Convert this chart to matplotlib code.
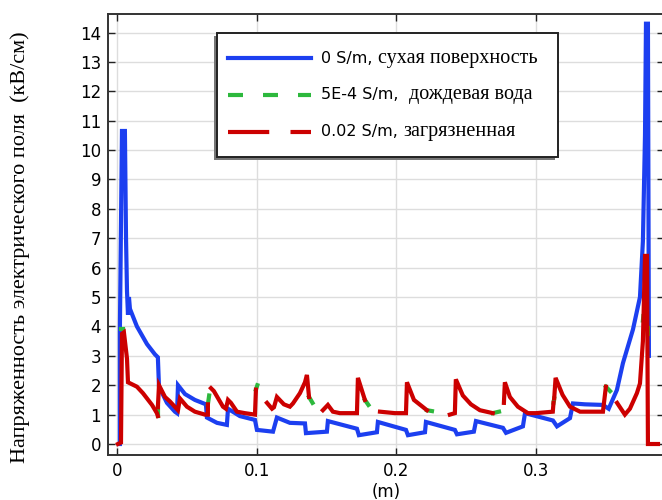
import numpy as np
import matplotlib
matplotlib.use("Agg")
import matplotlib.pyplot as plt
from matplotlib.lines import Line2D
from matplotlib.patches import Rectangle
from matplotlib.transforms import IdentityTransform
from matplotlib.offsetbox import (AnchoredOffsetbox, VPacker, HPacker,
                                  TextArea, DrawingArea)

plt.rcParams['font.family'] = ['DejaVu Sans']

# 0 S/m, dry surface
blue_x = [0.0021, 0.0021, 0.0036, 0.0057, 0.0065, 0.0072, 0.0079, 0.0086, 0.0093, 0.0143,
          0.0215, 0.0272, 0.0293, 0.0301, 0.0358, 0.0415, 0.0430, 0.0437, 0.0487, 0.0558,
          0.0637, 0.0644, 0.0716, 0.0787, 0.0795, 0.0880, 0.0988, 0.1002, 0.1117, 0.1145,
          0.1238, 0.1346, 0.1353, 0.1503, 0.1510, 0.1718, 0.1732, 0.1861, 0.1868, 0.2069,
          0.2083, 0.2205, 0.2212, 0.2419, 0.2434, 0.2555, 0.2570, 0.2763, 0.2785, 0.2906,
          0.2921, 0.3121, 0.3150, 0.3243, 0.3264, 0.3350, 0.3479, 0.3520, 0.3579, 0.3622,
          0.3694, 0.3744, 0.3765, 0.3780, 0.3787, 0.3801, 0.3808]
blue_y = [0.0, 3.85, 10.65, 10.65, 7.0, 5.2, 4.4, 5.0, 4.6, 4.0,
          3.4, 3.05, 2.95, 1.95, 1.4, 1.1, 1.05, 2.0, 1.7, 1.5,
          1.35, 0.9, 0.72, 0.65, 1.2, 0.95, 0.82, 0.48, 0.42, 0.9,
          0.72, 0.7, 0.37, 0.42, 0.78, 0.52, 0.3, 0.4, 0.75, 0.48,
          0.3, 0.4, 0.75, 0.48, 0.33, 0.42, 0.78, 0.55, 0.38, 0.6,
          1.05, 0.8, 0.6, 0.88, 1.38, 1.35, 1.33, 1.2, 1.84, 2.75,
          3.9, 5.0, 6.9, 10.5, 14.3, 14.3, 3.0]

# 0.02 S/m, polluted (separate pieces along the insulator)
red_segments = [
    ([0.0007, 0.0029, 0.0036, 0.0050, 0.0072, 0.0079, 0.0143, 0.0186, 0.0251, 0.0286, 0.0293],
     [0.0, 0.05, 3.75, 3.8, 2.9, 2.1, 1.95, 1.73, 1.33, 1.05, 0.95]),
    ([0.0293, 0.0301, 0.0344, 0.0379, 0.0437, 0.0451, 0.0501, 0.0558, 0.0630, 0.0651, 0.0651],
     [1.25, 2.0, 1.6, 1.45, 1.15, 1.55, 1.27, 1.1, 1.0, 1.0, 1.35]),
    ([0.0673, 0.0694, 0.0759, 0.0780, 0.0795, 0.0816, 0.0859, 0.0916, 0.0988, 0.0995],
     [1.9, 1.8, 1.27, 1.2, 1.5, 1.4, 1.1, 1.05, 1.0, 1.85]),
    ([0.1074, 0.1110, 0.1124, 0.1145, 0.1195, 0.1238, 0.1260, 0.1310, 0.1346, 0.1360, 0.1375],
     [1.4, 1.2, 1.25, 1.6, 1.35, 1.27, 1.38, 1.73, 2.1, 2.35, 1.6]),
    ([0.1474, 0.1510, 0.1546, 0.1596, 0.1718, 0.1725, 0.1775],
     [1.15, 1.33, 1.1, 1.05, 1.05, 2.25, 1.5]),
    ([0.1883, 0.1990, 0.2069, 0.2076, 0.2126, 0.2219],
     [1.1, 1.05, 1.05, 2.1, 1.5, 1.15]),
    ([0.2383, 0.2419, 0.2426, 0.2476, 0.2534, 0.2598, 0.2690],
     [1.0, 1.05, 2.2, 1.65, 1.35, 1.15, 1.05]),
    ([0.2770, 0.2777, 0.2813, 0.2870, 0.2942, 0.3000, 0.3120, 0.3125],
     [1.4, 2.1, 1.6, 1.27, 1.05, 1.05, 1.1, 1.4]),
    ([0.3130, 0.3140, 0.3190, 0.3243, 0.3315, 0.3479, 0.3500],
     [1.55, 2.25, 1.67, 1.27, 1.1, 1.1, 1.95]),
    ([0.3580, 0.3636, 0.3672, 0.3722, 0.3744, 0.3765, 0.3780, 0.3794, 0.3801, 0.3873],
     [1.4, 1.0, 1.2, 1.73, 2.06, 3.5, 6.4, 6.4, 0.0, 0.0]),
]

# 5E-4 S/m, rain water: lies under the red curve, visible only at the piece ends
green_tips = [
    ([0.0029, 0.0043], [3.9, 3.9]),
    ([0.0293, 0.0293], [0.95, 1.25]),
    ([0.0651, 0.0660], [1.35, 1.65]),
    ([0.0995, 0.1005], [1.85, 2.0]),
    ([0.1375, 0.1400], [1.6, 1.4]),
    ([0.1775, 0.1800], [1.5, 1.33]),
    ([0.2219, 0.2255], [1.15, 1.12]),
    ([0.2690, 0.2735], [1.05, 1.1]),
    ([0.3125, 0.3130], [1.4, 1.55]),
    ([0.3500, 0.3530], [1.95, 1.8]),
    ([0.3765, 0.3768], [4.2, 4.35]),
    ([0.3801, 0.3801], [3.75, 3.95]),
]

xticks = [0, 0.1, 0.2, 0.3]
xticklabels = ['0', '0.1', '0.2', '0.3']
yticks = list(range(0, 15))
legend_latin = ['0 S/m,', '5E-4 S/m,', '0.02 S/m,']
legend_cyr = ['сухая поверхность', ' дождевая вода', 'загрязненная']

c_blue = '#1c3ff0'
c_green = '#2db83d'
c_red = '#cc0000'

fig = plt.figure(figsize=(6.62, 5.0), dpi=100)
ax = fig.add_axes([108 / 662, 45 / 500, 556 / 662, 441 / 500])

ax.plot(blue_x, blue_y, color=c_blue, lw=3.0, zorder=3, solid_joinstyle='miter')
for gx, gy in green_tips:
    ax.plot(gx, gy, color=c_green, lw=3.0, zorder=4)
for rx, ry in red_segments:
    ax.plot(rx, ry, color=c_red, lw=3.0, zorder=5, solid_joinstyle='miter')

ax.set_xlim(-0.0064, 0.3916)
ax.set_ylim(-0.374, 14.63)
ax.set_xticks(xticks)
ax.set_xticklabels(xticklabels)
ax.set_yticks(yticks)
ax.grid(True, color='#dddddd', lw=1.0)
ax.set_axisbelow(True)
ax.tick_params(direction='in', top=True, right=True, length=5, width=1,
               labelsize=12, pad=5, color='#222222')
for s in ax.spines.values():
    s.set_color('#333333')
    s.set_linewidth(1.4)

ax.set_xlabel('(m)', fontsize=12, labelpad=2)
fig.text(20 / 662, 1 - 247 / 500, 'Напряженность электрического поля  (кВ/см)',
         rotation=90, ha='center', va='center', fontsize=16,
         family='Liberation Serif')

# legend: latin part in sans, cyrillic part in serif (as in the original)
styles = [dict(color=c_blue, lw=3.0),
          dict(color=c_green, lw=3.0, ls=(0, (3.6, 4.8))),
          dict(color=c_red, lw=3.0, ls=(0, (9.9, 5.1)))]
rows = []
for st, lat, cyr in zip(styles, legend_latin, legend_cyr):
    da = DrawingArea(63, 26.6, 0, 0)
    da.add_artist(Line2D([3.2, 63], [13.3, 13.3], **st))
    txt = HPacker(children=[TextArea(lat, textprops=dict(size=11.5, family='DejaVu Sans')),
                            TextArea(cyr, textprops=dict(size=14.5, family='Liberation Serif')),
                            DrawingArea(6, 1)],
                  align='baseline', pad=0, sep=4)
    rows.append(HPacker(children=[da, txt], align='center', pad=0, sep=7))
box = VPacker(children=rows, align='left', pad=0, sep=0)
anch = AnchoredOffsetbox(loc='upper left', child=box, pad=0.47, borderpad=0,
                         prop=dict(size=10), frameon=True,
                         bbox_to_anchor=((217 - 108) / 556, (455 - 33) / 441),
                         bbox_transform=ax.transAxes)
anch.patch.set_edgecolor('#222222')
anch.patch.set_linewidth(1.4)
anch.patch.set_facecolor('white')
anch.set_zorder(7)
ax.add_artist(anch)

fig.canvas.draw()
bb = anch.get_window_extent(fig.canvas.get_renderer())
ax.add_patch(Rectangle((bb.x0 - 3, bb.y0 - 3), bb.width, bb.height,
                       transform=IdentityTransform(), facecolor='#777777',
                       edgecolor='none', zorder=6.5, clip_on=False))

fig.savefig('out.png', dpi=100)
